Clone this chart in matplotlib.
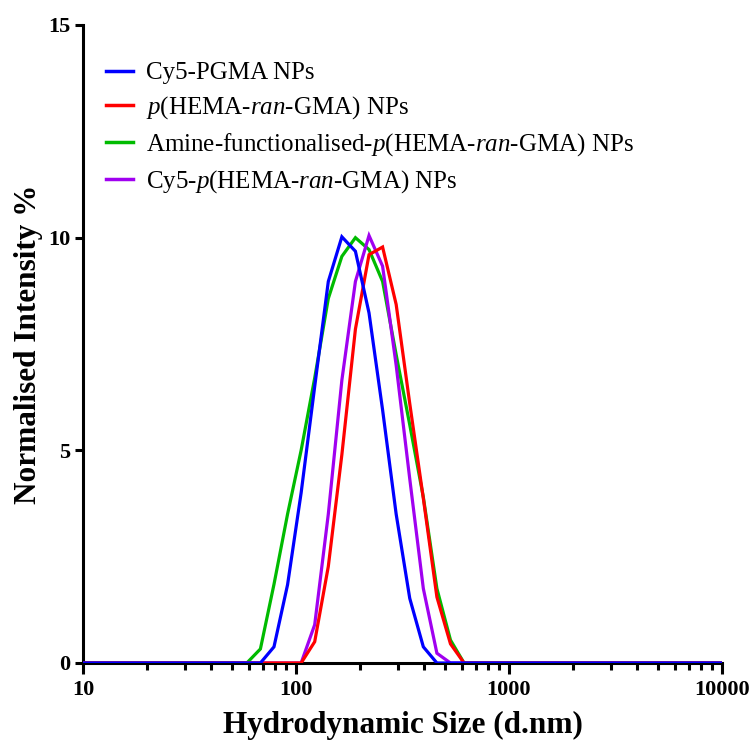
import matplotlib
matplotlib.use("Agg")
import matplotlib.pyplot as plt
from matplotlib.ticker import LogLocator, NullFormatter, FixedLocator, FixedFormatter

plt.rcParams['font.family'] = ['Liberation Serif', 'DejaVu Serif']
plt.rcParams['mathtext.fontset'] = 'custom'
plt.rcParams['mathtext.rm'] = 'Liberation Serif'
plt.rcParams['mathtext.it'] = 'Liberation Serif:italic'

# Size bins (d.nm)
sizes = [8.721, 10.10, 11.70, 13.54, 15.69, 18.17, 21.04, 24.36, 28.21, 32.67,
         37.84, 43.82, 50.75, 58.77, 68.06, 78.82, 91.28, 105.7, 122.4, 141.8,
         164.2, 190.1, 220.2, 255.0, 295.3, 342.0, 396.1, 458.7, 531.2, 615.1,
         712.4, 825.0, 955.4, 1106, 1281, 1484, 1718, 1990, 2305, 2669,
         3091, 3580, 4145, 4801, 5560, 6439, 7456, 8635, 10000]

cy5_pgma = [0, 0, 0, 0, 0, 0, 0, 0, 0, 0,
            0, 0, 0, 0, 0, 0.38, 1.84, 4.0, 6.5, 8.97,
            10.02, 9.68, 8.23, 5.95, 3.5, 1.52, 0.38, 0, 0, 0,
            0, 0, 0, 0, 0, 0, 0, 0, 0, 0,
            0, 0, 0, 0, 0, 0, 0, 0, 0]
phema = [0, 0, 0, 0, 0, 0, 0, 0, 0, 0,
         0, 0, 0, 0, 0, 0, 0, 0, 0.5, 2.27,
         4.9, 7.85, 9.6, 9.78, 8.43, 6.1, 3.87, 1.55, 0.45, 0,
         0, 0, 0, 0, 0, 0, 0, 0, 0, 0,
         0, 0, 0, 0, 0, 0, 0, 0, 0]
amine = [0, 0, 0, 0, 0, 0, 0, 0, 0, 0,
         0, 0, 0, 0, 0.33, 1.85, 3.5, 5.0, 6.7, 8.57,
         9.56, 10.0, 9.72, 8.97, 7.25, 5.6, 3.9, 1.75, 0.54, 0,
         0, 0, 0, 0, 0, 0, 0, 0, 0, 0,
         0, 0, 0, 0, 0, 0, 0, 0, 0]
cy5_phema = [0, 0, 0, 0, 0, 0, 0, 0, 0, 0,
             0, 0, 0, 0, 0, 0, 0, 0, 0.9, 3.5,
             6.65, 8.97, 10.05, 9.33, 7.0, 4.33, 1.75, 0.23, 0, 0,
             0, 0, 0, 0, 0, 0, 0, 0, 0, 0,
             0, 0, 0, 0, 0, 0, 0, 0, 0]

labels = ['Cy5-PGMA NPs',
          r'$\it{p}$(HEMA-$\it{ran}$-GMA) NPs',
          r'Amine-functionalised-$\it{p}$(HEMA-$\it{ran}$-GMA) NPs',
          r'Cy5-$\it{p}$(HEMA-$\it{ran}$-GMA) NPs']
colors = ['#0000FF', '#FF0000', '#00BB00', '#A000F0']
x_ticks = [10, 100, 1000, 10000]
x_ticklabels = ['10', '100', '1000', '10000']
y_ticks = [0, 5, 10, 15]

fig = plt.figure(figsize=(7.51, 7.45), dpi=100)
ax = fig.add_axes([83/751, 1-663/745, (722-83)/751, (663-25)/745])

series = [cy5_pgma, phema, amine, cy5_phema]
zorders = [5, 4, 2, 3]
lines = []
for s, c, z, lab in zip(series, colors, zorders, labels):
    ln, = ax.plot(sizes, s, color=c, lw=2.3, zorder=z, label=lab, solid_joinstyle='miter')
    lines.append(ln)

ax.set_xscale('log')
ax.set_xlim(10, 10000)
ax.set_ylim(0, 15)
ax.xaxis.set_major_locator(FixedLocator(x_ticks))
ax.xaxis.set_major_formatter(FixedFormatter(x_ticklabels))
ax.xaxis.set_minor_locator(LogLocator(base=10, subs=range(2, 10), numticks=20))
ax.xaxis.set_minor_formatter(NullFormatter())
ax.set_yticks(y_ticks)

for sp in ['top', 'right']:
    ax.spines[sp].set_visible(False)
for sp in ['left', 'bottom']:
    ax.spines[sp].set_linewidth(2.2)
    ax.spines[sp].set_color('black')

ax.tick_params(axis='both', which='major', direction='out', length=6, width=2.2,
               labelsize=16, pad=3)
ax.tick_params(axis='x', which='major', length=8, pad=4)
ax.tick_params(axis='x', which='minor', direction='out', length=5, width=2.2)
for t in ax.get_xticklabels() + ax.get_yticklabels():
    t.set_fontweight('bold')

ax.set_xlabel('Hydrodynamic Size (d.nm)', fontsize=22.5, fontweight='bold', labelpad=8)
ax.set_ylabel('Normalised Intensity %', fontsize=22.5, fontweight='bold', labelpad=4)

leg = ax.legend(handles=lines, loc='upper left', bbox_to_anchor=(0.02, 0.958),
                frameon=False, fontsize=18, handlelength=1.1, handletextpad=0.5,
                labelspacing=0.4, borderaxespad=0)
for lh in leg.get_lines():
    lh.set_linewidth(2.5)

fig.savefig('out.png', dpi=100)
